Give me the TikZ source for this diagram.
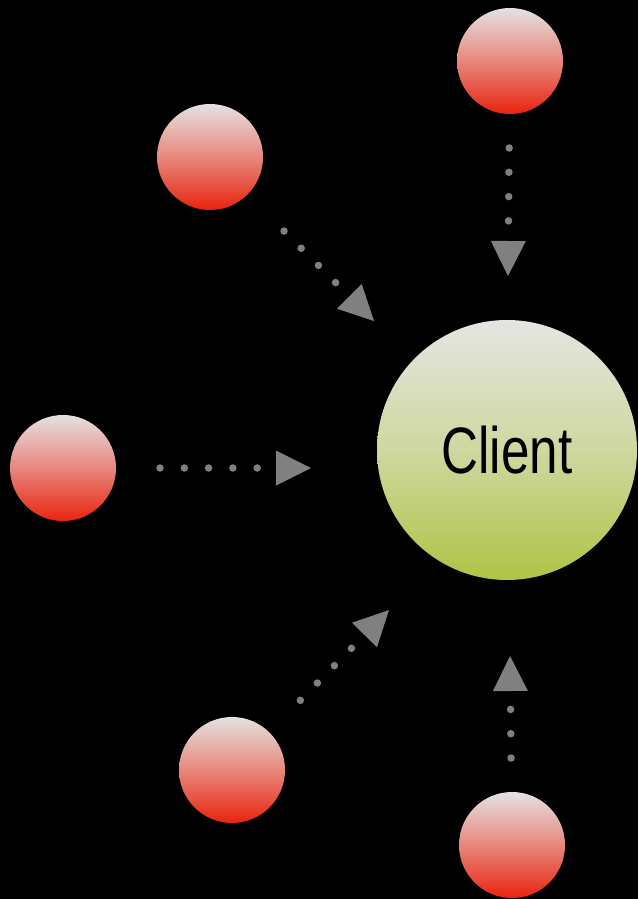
\documentclass[tikz,border=0pt]{standalone}
\usepackage{fontspec}
\newfontfamily\condfont[FakeStretch=0.78]{Liberation Sans}
\usetikzlibrary{arrows.meta}
\definecolor{redtop}{RGB}{229,225,224}
\definecolor{redmid}{RGB}{231,135,125}
\definecolor{redbot}{RGB}{232,36,14}
\definecolor{grntop}{RGB}{229,229,226}
\definecolor{grnmid}{RGB}{206,216,160}
\definecolor{grnbot}{RGB}{174,196,68}
\definecolor{arrowgray}{RGB}{128,128,128}
\begin{document}
\begin{tikzpicture}[x=1pt,y=-1pt,
  ball/.style={circle, minimum size=106pt, inner sep=0pt, outer sep=0pt,
    shading=axis, top color=redtop, bottom color=redbot, middle color=redmid},
  clientball/.style={circle, minimum size=260pt, inner sep=0pt, outer sep=0pt,
    shading=axis, top color=grntop, bottom color=grnbot, middle color=grnmid,
    text=black, font=\condfont\fontsize{65.6}{70}\selectfont},
  conn/.style={draw=arrowgray, line width=7.5pt, line cap=round,
    dash pattern=on 0pt off 24.3pt,
    -{Triangle[length=35pt,width=35pt,line width=0pt]}}]
\fill[black] (0,0) rectangle (638,899);
\useasboundingbox (0,0) rectangle (638,899);

\node[ball] (tr) at (510,61) {};
\node[ball] (ul) at (210,157) {};
\node[ball] (lf) at (63,468) {};
\node[ball] (ll) at (232,770) {};
\node[ball] (br) at (512,845) {};
\node[clientball] (client) at (507,450) {Client};

\coordinate (t1) at (508,276);
\coordinate (t2) at (311,468);
\coordinate (t3) at (374,321);
\coordinate (t4) at (389,610);
\coordinate (t5) at (510,656);

\draw[conn, shorten <=34pt] (tr) -- (t1);
\draw[conn, shorten <=44pt] (lf) -- (t2);
\draw[conn, shorten <=51.7pt] (ul) -- (t3);
\draw[conn, shorten <=44.6pt] (ll) -- (t4);
\draw[conn, shorten <=34pt] (br) -- (t5);
\end{tikzpicture}
\end{document}
